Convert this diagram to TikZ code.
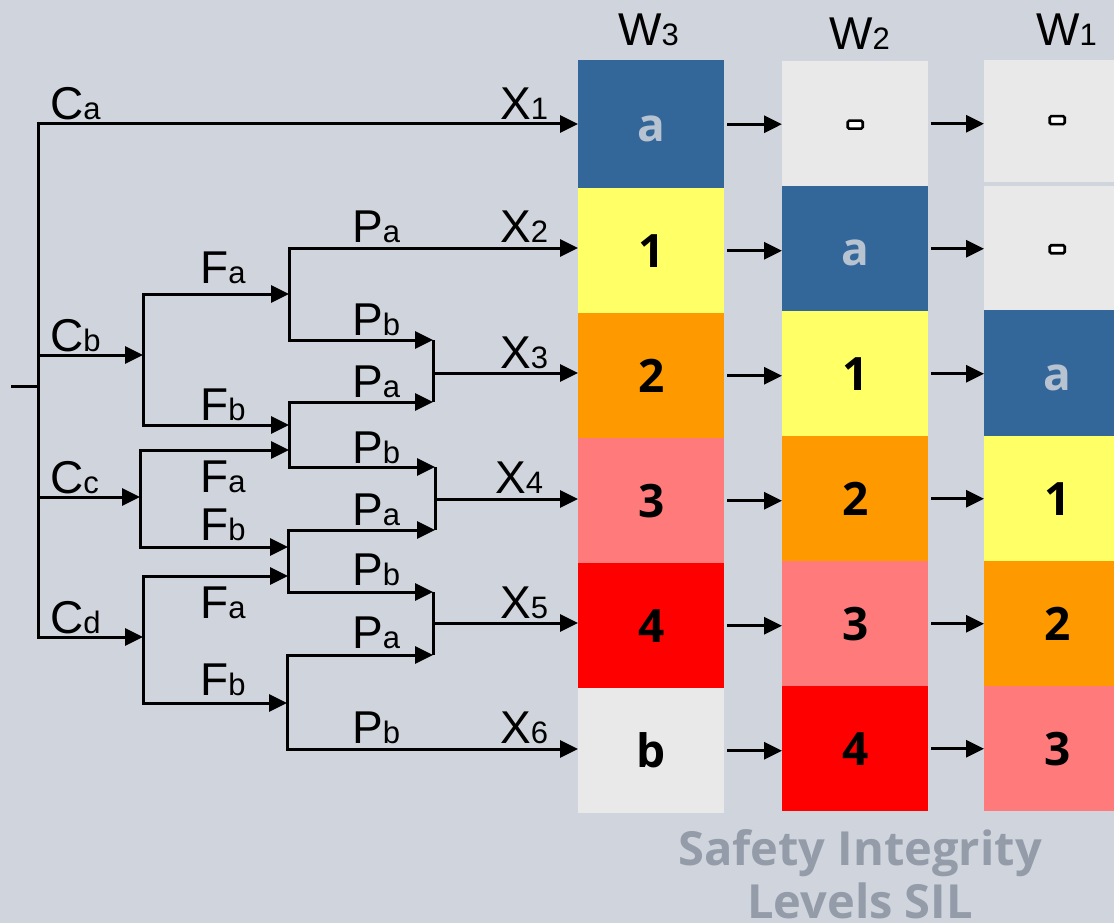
\documentclass[tikz,border=0pt]{standalone}
\usepackage{fontspec}
\setmainfont{Liberation Sans}
\newfontfamily\cellfont{Open Sans}
\usetikzlibrary{arrows.meta}

\definecolor{bg}{HTML}{D0D4DC}
\definecolor{silblue}{HTML}{336699}
\definecolor{silyellow}{HTML}{FFFF66}
\definecolor{silorange}{HTML}{FF9900}
\definecolor{silpink}{HTML}{FF7B7B}
\definecolor{silred}{HTML}{FF0000}
\definecolor{silgrey}{HTML}{E9E9EA}
\definecolor{lighttext}{HTML}{B8C3D2}
\definecolor{captiontext}{HTML}{939CA8}

% large letter followed by a smaller index on the same baseline
\newcommand\bigsub[2]{{\fontsize{46}{46}\selectfont #1}{\fontsize{31}{31}\selectfont #2}}

\begin{document}
\begin{tikzpicture}[x=1pt,y=-1pt,
  ln/.style={line width=3pt, black},
  arr/.style={ln, -{Triangle[length=18pt,width=17pt]}},
  dbl/.style={ln, {Triangle[length=18pt,width=17pt]}-{Triangle[length=18pt,width=17pt]}},
  lab/.style={anchor=base west, inner sep=0pt},
  cell/.style={anchor=north west, rectangle, minimum width=146pt, minimum height=#1,
    inner sep=0pt, text height=34pt, text depth=0pt,
    font=\cellfont\bfseries\fontsize{46}{46}\selectfont},
  cell/.default=125pt,
  dashmark/.style={draw=black, line width=2.6pt, fill=white, rounded corners=1.5pt,
    minimum width=15pt, minimum height=8pt, inner sep=0pt},
  title/.style={anchor=base, inner sep=0pt, text=captiontext,
    font=\cellfont\bfseries\fontsize{47}{47}\selectfont}
]
% background
\fill[bg] (0,0) rectangle (1114,923);
\useasboundingbox (0,0) rectangle (1114,923);

% ---------- SIL columns ----------
% W3
\node[cell=128pt, fill=silblue, text=lighttext] (w3a) at (578,60) {a};
\node[cell, fill=silyellow] (w3b) at (578,188) {1};
\node[cell, fill=silorange] (w3c) at (578,313) {2};
\node[cell, fill=silpink]   (w3d) at (578,438) {3};
\node[cell, fill=silred]    (w3e) at (578,563) {4};
\node[cell, fill=silgrey]   (w3f) at (578,688) {b};
% W2
\node[cell, fill=silgrey]   (w2a) at (782,61) {};
\node[cell, fill=silblue, text=lighttext] (w2b) at (782,186) {a};
\node[cell, fill=silyellow] (w2c) at (782,311) {1};
\node[cell, fill=silorange] (w2d) at (782,436) {2};
\node[cell, fill=silpink]   (w2e) at (782,561) {3};
\node[cell, fill=silred]    (w2f) at (782,686) {4};
% W1
\node[cell=122pt, fill=silgrey] (w1a) at (984,60) {};
\node[cell=124pt, fill=silgrey] (w1b) at (984,186) {};
\node[cell=126pt, fill=silblue, text=lighttext] (w1c) at (984,310) {a};
\node[cell, fill=silyellow] (w1d) at (984,436) {1};
\node[cell, fill=silorange] (w1e) at (984,561) {2};
\node[cell, fill=silpink]   (w1f) at (984,686) {3};
% dash marks
\node[dashmark] (m2a) at ([yshift=-1pt]w2a.center) {};
\node[dashmark] (m1a) at ([yshift=1pt]w1a.center) {};
\node[dashmark] (m1b) at ([yshift=-1pt]w1b.center) {};

% column headers
\node[lab] (h3) at (618,46) {\bigsub{W}{3}};
\node[lab] (h2) at (829,50) {\bigsub{W}{2}};
\node[lab] (h1) at (1036,46) {\bigsub{W}{1}};

% arrows between columns
\foreach \a/\b in {w3a/w2a, w3b/w2b, w3c/w2c, w3d/w2d, w3e/w2e, w3f/w2f}
  \draw[arr, shorten <=3pt] (\a.east) -- (\a.east -| \b.west);
\foreach \a/\b in {w2a/w1a, w2b/w1b, w2c/w1c, w2d/w1d, w2e/w1e, w2f/w1f}
  \draw[arr, shorten <=3pt] (\a.east) -- (\a.east -| \b.west);

% ---------- risk graph ----------
\coordinate (stub) at (11,386);
\coordinate (tr) at (38,386);
\coordinate (ca) at (38,124);
\coordinate (cb) at (38,355);
\coordinate (cc) at (38,497);
\coordinate (cd) at (38,637);

\coordinate (fb1) at (143,294);
\coordinate (fb2) at (143,425);
\coordinate (fc1) at (140,450);
\coordinate (fc2) at (140,547);
\coordinate (fd1) at (143,576);
\coordinate (fd2) at (143,703);

\coordinate (p1a) at (289,248);
\coordinate (p1b) at (289,340);
\coordinate (p2a) at (289,402);
\coordinate (p2b) at (289,467);
\coordinate (p3a) at (288,530);
\coordinate (p3b) at (288,592);
\coordinate (p4a) at (287,655);
\coordinate (p4b) at (287,749);

\coordinate (j1) at (433,373);
\coordinate (j2) at (435,499);
\coordinate (j3) at (433,623);

% trunk with C branches
\draw[ln] (stub) -- (tr);
\draw[dbl] (ca -| w3a.west) -- (ca) -- (cd) -- (cd -| fd1);
\draw[arr] (cb) -- (cb -| fb1);
\draw[arr] (cc) -- (cc -| fc1);

% F branches
\draw[dbl] (fb1 -| p1a) -- (fb1) -- (fb2) -- (fb2 -| p2a);
\draw[dbl] (fc1 -| p2a) -- (fc1) -- (fc2) -- (fc2 -| p3a);
\draw[dbl] (fd1 -| p3a) -- (fd1) -- (fd2) -- (fd2 -| p4a);

% P branches
\draw[dbl] (p1a -| w3b.west) -- (p1a) -- (p1b) -- (p1b -| j1);
\draw[dbl] (p2a -| j1) -- (p2a) -- (p2b) -- (p2b -| j2);
\draw[dbl] (p3a -| j2) -- (p3a) -- (p3b) -- (p3b -| j3);
\draw[dbl] (p4a -| j3) -- (p4a) -- (p4b) -- (p4b -| w3f.west);

% joins into X3, X4, X5
\draw[ln] (p1b -| j1) -- (p2a -| j1);
\draw[ln] (p2b -| j2) -- (p3a -| j2);
\draw[ln] (p3b -| j3) -- (p4a -| j3);
\draw[arr] (j1) -- (j1 -| w3c.west);
\draw[arr] (j2) -- (j2 -| w3d.west);
\draw[arr] (j3) -- (j3 -| w3e.west);

% labels
\node[lab] (lca) at (50,120) {\bigsub{C}{a}};
\node[lab] (lcb) at (50,351) {\bigsub{C}{b}};
\node[lab] (lcc) at (50,493) {\bigsub{C}{c}};
\node[lab] (lcd) at (50,633) {\bigsub{C}{d}};

\node[lab] (lf1) at (200,283) {\bigsub{F}{a}};
\node[lab] (lf2) at (200,420) {\bigsub{F}{b}};
\node[lab] (lf3) at (200,492) {\bigsub{F}{a}};
\node[lab] (lf4) at (200,540) {\bigsub{F}{b}};
\node[lab] (lf5) at (200,618) {\bigsub{F}{a}};
\node[lab] (lf6) at (200,695) {\bigsub{F}{b}};

\node[lab] (lp1) at (352,242) {\bigsub{P}{a}};
\node[lab] (lp2) at (352,335) {\bigsub{P}{b}};
\node[lab] (lp3) at (352,397) {\bigsub{P}{a}};
\node[lab] (lp4) at (352,463) {\bigsub{P}{b}};
\node[lab] (lp5) at (352,525) {\bigsub{P}{a}};
\node[lab] (lp6) at (352,585) {\bigsub{P}{b}};
\node[lab] (lp7) at (352,648) {\bigsub{P}{a}};
\node[lab] (lp8) at (352,743) {\bigsub{P}{b}};

\node[lab] (lx1) at (500,120) {\bigsub{X}{1}};
\node[lab] (lx2) at (500,242) {\bigsub{X}{2}};
\node[lab] (lx3) at (500,368) {\bigsub{X}{3}};
\node[lab] (lx4) at (495,493) {\bigsub{X}{4}};
\node[lab] (lx5) at (500,618) {\bigsub{X}{5}};
\node[lab] (lx6) at (500,743) {\bigsub{X}{6}};

% caption
\node[title] (cap1) at (860,865) {Safety Integrity};
\node[title] (cap2) at (860,918) {Levels SIL};
\end{tikzpicture}
\end{document}
